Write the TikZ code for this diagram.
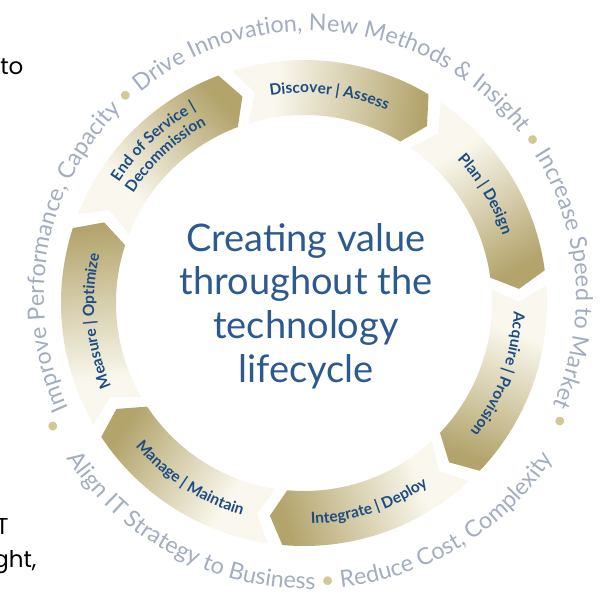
\documentclass[tikz,border=0pt]{standalone}
\usepackage{fontspec}
\setmainfont{Lato}
\newfontfamily\edgefont{Poppins}
\usetikzlibrary{decorations.text}

\definecolor{segcream}{HTML}{FAF8EE}
\definecolor{seggold}{HTML}{B3A46C}
\definecolor{labelblue}{HTML}{1D4C82}
\definecolor{centreblue}{HTML}{2C5A8E}
\definecolor{ringgrey}{HTML}{A2ADC0}
\definecolor{dotgold}{HTML}{D2C796}

\pgfdeclarehorizontalshading{segshade}{100bp}{color(0bp)=(segcream); color(35bp)=(segcream); color(75bp)=(seggold); color(100bp)=(seggold)}

\newcommand{\ringfont}{\fontsize{23.3}{28}\selectfont}
\newcommand{\segfont}{\fontsize{15.5}{18}\selectfont\bfseries}
\newcommand{\greytext}{\ringfont\color{ringgrey}}
\newcommand{\goldtext}{\ringfont\color{dotgold}}
% one chevron of the ring: tail angle, head angle
\newcommand{\chevron}[2]{%
  \shade[shading=segshade, shading angle={(#1+#2)/2-90}]
    (#1-1.75:243) arc[start angle=#1-1.75, end angle=#2+1.75, radius=243pt]
    -- (#2-2.25:215.5)
    -- (#2+1.75:188) arc[start angle=#2+1.75, end angle=#1-1.75, radius=188pt]
    -- (#1-5.75:215.5) -- cycle;}

\begin{document}
\begin{tikzpicture}[x=1pt,y=1pt,
    labelarc/.style={decorate, decoration={text along path, text align=center,
        text color=labelblue, text={|\segfont|#1}}},
    ringarc/.style={decorate, decoration={text along path, text align=center,
        text={|\greytext|#1}}},
    ringdot/.style={font=\ringfont, text=dotgold, inner sep=0pt},
    valueline/.style={anchor=base, font=\fontsize{38}{42}\selectfont, text=centreblue},
    edgeline/.style={anchor=base east, font=\edgefont\fontsize{23}{28}\selectfont}]
  \useasboundingbox (-304,-293) rectangle (304,303);
  \coordinate (hub) at (0,0);
  \coordinate (ringc) at (6,6);

  % the seven steps, clockwise
  \chevron{108.86}{57.43}
  \chevron{57.43}{6}
  \chevron{6}{-45.43}
  \chevron{-45.43}{-96.86}
  \chevron{-96.86}{-148.29}
  \chevron{-148.29}{-199.71}
  \chevron{-199.71}{-251.14}

  \path[labelarc={Discover {\textbar} Assess}] (153:210) arc[start angle=153, end angle=13, radius=210pt];
  \path[labelarc={Plan {\textbar} Design}] (101:210) arc[start angle=101, end angle=-39, radius=210pt];
  \path[labelarc={Acquire {\textbar} Provision}] (50:210) arc[start angle=50, end angle=-90, radius=210pt];
  \path[labelarc={Integrate {\textbar} Deploy}] (-142:221) arc[start angle=-142, end angle=-2, radius=221pt];
  \path[labelarc={Manage {\textbar} Maintain}] (-193:221) arc[start angle=-193, end angle=-53, radius=221pt];
  \path[labelarc={Measure {\textbar} Optimize}] (255:210) arc[start angle=255, end angle=115, radius=210pt];
  \path[labelarc={End of Service {\textbar}}] (203:221) arc[start angle=203, end angle=63, radius=221pt];
  \path[labelarc={Decommission}] (203:203) arc[start angle=203, end angle=63, radius=203pt];

  % centre
  \node[valueline] (value1) at (2,51) {Creating value};
  \node[valueline] (value2) at (2,8) {throughout the};
  \node[valueline] (value3) at (2,-36) {technology};
  \node[valueline] (value4) at (2,-80) {lifecycle};

  % outer ring of aims
  \path[ringarc={Improve Performance, Capacity |\goldtext|•|\greytext| Drive Innovation, New Methods {\&} Insight |\goldtext|•|\greytext| Increase Speed to Market}]
    ([shift={(250.3:266)}]ringc) arc[start angle=250.3, end angle=-69.7, radius=266pt];
  \path[ringarc={Align IT Strategy to Business |\goldtext|•|\greytext| Reduce Cost, Complexity}]
    ([shift={(120.05:292)}]ringc) arc[start angle=120.05, end angle=420.05, radius=292pt];
  \node[ringdot] (dotleft) at (-251,-125) {•};
  \node[ringdot] (dotright) at (256,-120) {•};

  % cut text at the left edge
  \node[edgeline] (edgeinto) at (-277,228) {nto};
  \node[edgeline] (edgeit) at (-292,-232) {T};
  \node[edgeline] (edgeright) at (-264,-265) {ght,};
\end{tikzpicture}
\end{document}
